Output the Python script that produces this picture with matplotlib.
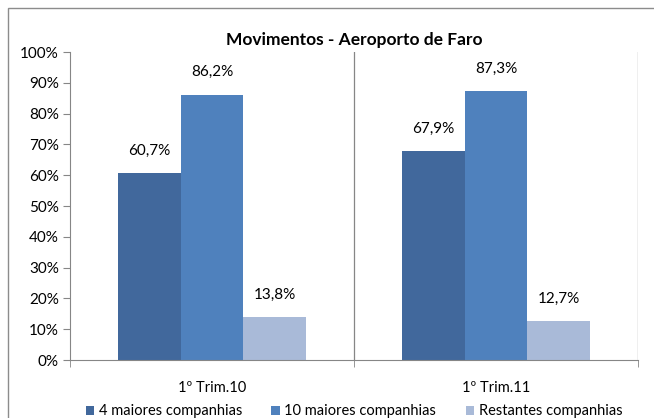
import matplotlib.pyplot as plt
import matplotlib.patches as mpatches
import numpy as np

categories = ["1º Trim.10", "1º Trim.11"]
series_names = ["4 maiores companhias", "10 maiores companhias", "Restantes companhias"]
top4 = [60.7, 67.9]
top10 = [86.2, 87.3]
rest = [13.8, 12.7]
colors = ["#41689C", "#4F81BD", "#A9BAD8"]

plt.rcParams['font.family'] = ['Lato', 'DejaVu Sans']

fig = plt.figure(figsize=(6.54, 4.18), dpi=100)
ax = fig.add_axes([70 / 654, 1 - 360 / 418, (638 - 70) / 654, (360 - 52) / 418])

# outer frame like the excel chart area
frame = mpatches.Rectangle((8 / 654, -0.1), 2, (418 - 8) / 418 + 0.1,
                           transform=fig.transFigure, fill=False,
                           edgecolor="#8C8C8C", linewidth=1.0)
fig.patches.append(frame)

x = np.arange(len(categories))
w = 0.22
for i, vals in enumerate([top4, top10, rest]):
    bars = ax.bar(x + (i - 1) * w, vals, w, color=colors[i], label=series_names[i])
    for b, v in zip(bars, vals):
        ax.annotate(("%.1f%%" % v).replace(".", ","),
                    (b.get_x() + b.get_width() / 2, v),
                    xytext=(0, 11), textcoords="offset points",
                    ha="center", va="bottom", fontsize=11)

ax.set_xlim(-0.5, 1.5)
ax.set_ylim(0, 100)
ax.set_yticks(np.arange(0, 101, 10))
ax.set_yticklabels(["%d%%" % t for t in range(0, 101, 10)], fontsize=11)

ax.set_xticks(x)
ax.set_xticklabels(categories, fontsize=10.5)
ax.set_xticks([-0.5, 0.5, 1.5], minor=True)
ax.tick_params(axis="x", which="major", length=0, pad=15)
ax.tick_params(axis="x", which="minor", length=5, color="#868686", direction="out")
ax.tick_params(axis="y", length=5, color="#868686", direction="out", pad=3)

for xv in [0.5, 1.5]:
    ax.axvline(xv, color="#868686", linewidth=0.9, zorder=0)

for s in ["top", "right"]:
    ax.spines[s].set_visible(False)
for s in ["left", "bottom"]:
    ax.spines[s].set_color("#868686")

ax.set_title("Movimentos - Aeroporto de Faro", fontsize=12.5, fontweight="bold", pad=5)

ax.legend(loc="upper center", bbox_to_anchor=(0.5, -0.125), ncol=3, frameon=False,
          fontsize=10.5, handlelength=0.6, handleheight=0.6, handletextpad=0.3,
          columnspacing=2.0, borderaxespad=0)

fig.savefig("out.png", dpi=100)
